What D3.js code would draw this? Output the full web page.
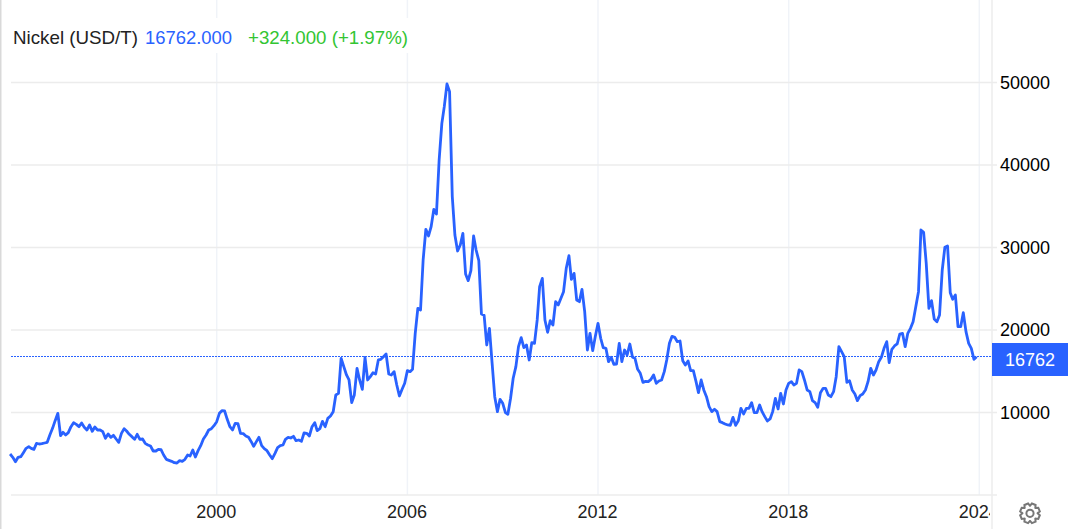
<!DOCTYPE html>
<html><head><meta charset="utf-8">
<script src="https://cdn.jsdelivr.net/npm/d3@7"></script>
<style>html,body{margin:0;padding:0;background:#fff}svg{display:block}text{font-family:"Liberation Sans",Arial,sans-serif}</style>
</head><body><svg id="c" width="1071" height="529"></svg>
<script>
const seriesName = "Nickel (USD/T)";
const lastValue = 16762, lastText = "16762.000", changeText = "+324.000 (+1.97%)";
const yTicks = [10000, 20000, 30000, 40000, 50000];
const xTickYears = [2000, 2006, 2012, 2018, 2024];
const firstMonth = new Date(1993, 6, 1);
const prices = [
4970,4566,4041,4566,4647,5132,5657,5859,5657,5536,
6263,6182,6220,6303,6384,7273,8081,9010,9899,7192,
7596,7273,7556,8283,8768,8566,8283,8727,8202,7879,
8485,7717,8243,7879,7879,7677,6869,7394,6990,7233,
6788,6384,7475,8041,7758,7354,7071,6748,7354,6748,
6788,6263,6061,5940,5334,5334,5536,5495,4849,4324,
4203,4081,3920,3879,4162,4081,4324,4849,4728,5455,
4607,5374,5980,6788,7273,7879,8041,8404,8889,9899,
10222,10182,9172,8283,7879,8687,8646,7475,7435,7152,
6990,6465,5899,6465,6990,5980,5617,5374,4849,4404,
5051,5738,5980,6061,6748,6990,6909,7111,6586,6667,
6505,7515,7475,7152,8283,8768,7798,8041,8930,8283,
9293,9576,10101,12121,12323,16569,15559,14549,13943,11196,
12125,15357,13943,12812,16691,13943,14347,14830,14670,16367,
16448,16771,17094,14670,14549,14953,13337,12004,12812,13539,
15074,14953,15236,19599,22629,22427,28487,32203,31396,32527,
34627,34062,40607,45051,47071,49818,48889,36163,31517,29578,
30305,31719,26790,25982,27194,31396,29699,28406,21942,21781,
18185,20205,15963,11923,10105,11600,11115,9984,9782,11721,
14146,15559,17983,19074,17862,18185,16367,18468,18387,21215,
25255,26265,21215,19720,21134,20609,23437,23033,23839,24647,
27475,29010,26142,26869,23637,23435,24930,22223,17577,19597,
17496,19200,20809,18991,17860,17779,16163,16688,15840,15880,
18385,16163,17577,16971,18304,16688,16567,15234,14749,13658,
13779,13739,14022,14547,13537,13820,13941,14951,16365,18385,
19233,19112,18587,18668,16284,15759,16244,15072,15072,13739,
12406,13941,12730,11920,10710,10103,10386,10103,8891,8770,
8608,8487,8447,9416,8447,9000,10507,9820,10507,10507,
11194,9982,9982,10911,10103,9497,8971,9214,10103,11719,
10426,12325,11033,12729,13537,13739,13335,13537,15153,14951,
13941,12729,12527,11436,11194,10628,12406,12931,12931,12122,
11920,12527,14345,17981,17375,16769,13658,13860,12729,12244,
11436,12042,12244,12729,13739,15355,14547,15153,16163,16688,
17779,18587,16042,17658,18062,18304,19516,19597,17981,19597,
20203,21011,22829,24647,32121,31838,28081,22627,23556,21334,
21011,21819,27273,30020,30182,24526,23718,24243,20405,20405,
22102,19799,18385,17779,16446,16762
];
const months = prices.map((_, i) => d3.timeMonth.offset(firstMonth, i));

const BLUE = "#2962ff", GRID = "#ececec", VGRID = "#f0f3f8";
const L = 11, AX = 992, TICKR = 997, BASE = 495;
const svg = d3.select("#c");
const x = d3.scaleTime().domain([new Date(2000,0,1), new Date(2024,0,1)]).range([216.7, 979.3]);
const y = d3.scaleLinear().domain([0, 50000]).range([BASE, 82.5]);

svg.append("rect").attr("x",0).attr("y",0).attr("width",1.5).attr("height",529).attr("fill","#d9d9d9");

// vertical grid
svg.append("g").selectAll("line").data(xTickYears).join("line")
  .attr("x1",d=>x(new Date(d,0,1))).attr("x2",d=>x(new Date(d,0,1)))
  .attr("y1",0).attr("y2",BASE).attr("stroke",VGRID).attr("stroke-width",1.5);

// title mask
svg.append("rect").attr("x",2).attr("y",18).attr("width",410).attr("height",35).attr("fill","#fff");

// y axis
const yAxis = d3.axisRight(y).tickValues(yTicks).tickSize(0).tickPadding(0).tickFormat(d3.format("d"));
const gy = svg.append("g").attr("transform",`translate(1000,0)`).call(yAxis);
gy.select(".domain").remove();
gy.selectAll("text").attr("font-size",18).attr("fill","#000").attr("x",0).attr("dy","0.33em");

// horizontal grid
svg.append("g").selectAll("line").data(yTicks.concat([0])).join("line")
  .attr("x1",L).attr("x2",TICKR).attr("y1",d=>y(d)).attr("y2",d=>y(d))
  .attr("stroke",GRID).attr("stroke-width",1.5);

// right axis border
svg.append("line").attr("x1",AX).attr("x2",AX).attr("y1",0).attr("y2",529).attr("stroke",GRID).attr("stroke-width",1.5);

// x axis
svg.append("clipPath").attr("id","xclip").append("rect").attr("x",0).attr("y",496).attr("width",990).attr("height",33);
const xAxis = d3.axisBottom(x).tickValues(xTickYears.map(d=>new Date(d,0,1))).tickSize(0).tickPadding(0).tickFormat(d3.timeFormat("%Y"));
const gx = svg.append("g").attr("clip-path","url(#xclip)").append("g").attr("transform",`translate(-1,${BASE})`).call(xAxis);
gx.select(".domain").remove();
gx.selectAll("text").attr("font-size",18).attr("fill","#222").attr("y",10).attr("dy","0.71em");

// last value line
const lastY = Math.floor(y(lastValue)) + 0.5;
svg.append("line").attr("x1",L).attr("x2",AX).attr("y1",lastY).attr("y2",lastY)
  .attr("stroke",BLUE).attr("stroke-width",1).attr("stroke-dasharray","2,1");

// series
const line = d3.line().x((d,i)=>x(months[i])).y(d=>y(d));
svg.append("path").datum(prices).attr("d",line).attr("fill","none").attr("stroke",BLUE)
  .attr("stroke-width",2.8).attr("stroke-linejoin","round");

// last label
svg.append("rect").attr("x",992).attr("y",343).attr("width",76).attr("height",33).attr("fill",BLUE);
svg.append("text").attr("x",1030).attr("y",360).attr("dy","0.36em").attr("text-anchor","middle")
  .attr("font-size",18).attr("fill","#fff").text(lastValue);

// title
svg.append("text").attr("x",13).attr("y",44).attr("font-size",18.6).attr("fill","#222")
  .attr("textLength",125).attr("lengthAdjust","spacingAndGlyphs").text(seriesName);
svg.append("text").attr("x",145).attr("y",44).attr("font-size",18.4).attr("fill",BLUE)
  .attr("textLength",87).attr("lengthAdjust","spacingAndGlyphs").text(lastText);
svg.append("text").attr("x",248).attr("y",44).attr("font-size",18.6).attr("fill","#33c533")
  .attr("textLength",160).attr("lengthAdjust","spacingAndGlyphs").text(changeText);

// settings gear
const gearPts = [];
d3.range(8).forEach(k=>{
  const a0 = k*Math.PI/4 - Math.PI/8;
  [[a0-0.2,10],[a0+0.2,10],[a0+0.38,7.6],[a0+0.785-0.38,7.6]].forEach(p=>gearPts.push(p));
});
const gear = d3.lineRadial().angle(d=>d[0]).radius(d=>d[1]).curve(d3.curveLinearClosed);
const gg = svg.append("g").attr("transform","translate(1030,513.3)").attr("fill","none").attr("stroke","#777").attr("stroke-width",2);
gg.append("path").attr("d",gear(gearPts));
gg.append("circle").attr("r",3.6);
</script></body></html>
